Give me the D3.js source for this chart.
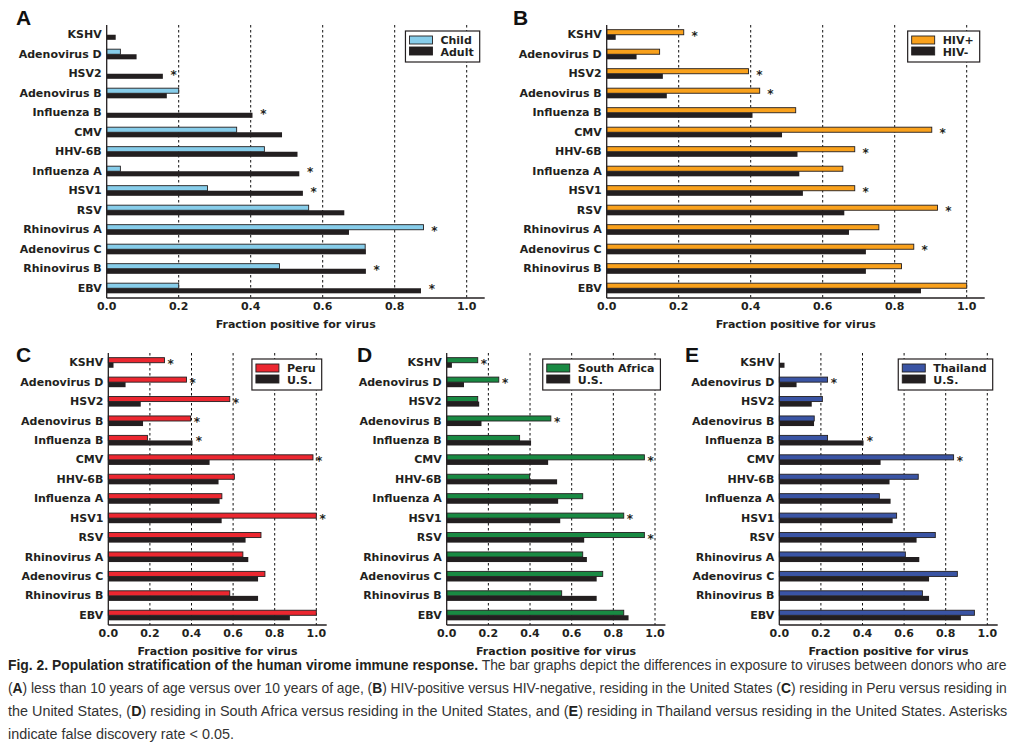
<!DOCTYPE html>
<html lang="en">
<head>
<meta charset="utf-8">
<title>Population stratification of the human virome immune response</title>
<script src="https://cdn.jsdelivr.net/npm/d3@7"></script>
<style>
  body, html { margin: 0; background: #fff; }
  .lbl { font-family: 'DejaVu Sans', sans-serif; font-weight: bold; font-size: 11px; fill: #231f20; }
  .star { font-family: 'DejaVu Sans', sans-serif; font-weight: bold; font-size: 12px; fill: #231f20; }
  .letter { font-family: 'Liberation Sans', sans-serif; font-weight: bold; font-size: 21px; fill: #111; }
  .cap { font-family: 'Liberation Sans', sans-serif; font-size: 14.5px; fill: #333; }
  .cap .b { font-weight: bold; fill: #231f20; }
</style>
</head>
<body>
<script>
// categories (top to bottom)
var viruses = ["KSHV", "Adenovirus D", "HSV2", "Adenovirus B", "Influenza B", "CMV", "HHV-6B",
  "Influenza A", "HSV1", "RSV", "Rhinovirus A", "Adenovirus C", "Rhinovirus B", "EBV"];

// U.S. adults / HIV- / U.S. residents (same black series in every panel)
var usValues     = [0.025, 0.083, 0.156, 0.167, 0.405, 0.487, 0.530, 0.535, 0.545, 0.660, 0.673, 0.720, 0.720, 0.873];
var childValues  = [0.000, 0.038, 0.000, 0.200, 0.000, 0.361, 0.438, 0.038, 0.280, 0.561, 0.880, 0.718, 0.480, 0.200];
var hivPosValues = [0.214, 0.147, 0.394, 0.425, 0.525, 0.903, 0.689, 0.656, 0.689, 0.919, 0.756, 0.853, 0.819, 1.000];
var peruValues   = [0.270, 0.376, 0.584, 0.396, 0.188, 0.984, 0.606, 0.546, 1.000, 0.734, 0.647, 0.753, 0.584, 1.000];
var saValues     = [0.149, 0.250, 0.149, 0.500, 0.350, 0.949, 0.398, 0.653, 0.850, 0.949, 0.653, 0.749, 0.552, 0.850];
var thaiValues   = [0.000, 0.232, 0.207, 0.168, 0.232, 0.838, 0.668, 0.481, 0.564, 0.750, 0.606, 0.856, 0.688, 0.938];

// viruses marked with an asterisk (FDR < 0.05)
var childSig  = ["HSV2", "Influenza B", "Influenza A", "HSV1", "Rhinovirus A", "Rhinovirus B", "EBV"];
var hivSig    = ["KSHV", "HSV2", "Adenovirus B", "CMV", "HHV-6B", "HSV1", "RSV", "Adenovirus C"];
var peruSig   = ["KSHV", "Adenovirus D", "HSV2", "Adenovirus B", "Influenza B", "CMV", "HSV1"];
var saSig     = ["KSHV", "Adenovirus D", "Adenovirus B", "CMV", "HSV1", "RSV"];
var thaiSig   = ["Adenovirus D", "Influenza B", "CMV"];

var xTicks = [0, 0.2, 0.4, 0.6, 0.8, 1.0];

var dark = "#231f20";

var panels = [
  {letter: "A", names: ["Child", "Adult"], values: childValues, color: "#87cdea", sig: childSig,
   x0: 106.7, x1: 466.7, top: 25, bottom: 298, lx: 16, ly: 25},
  {letter: "B", names: ["HIV+", "HIV-"], values: hivPosValues, color: "#f9a11c", sig: hivSig,
   x0: 606.7, x1: 966.7, top: 25, bottom: 298, lx: 513, ly: 25},
  {letter: "C", names: ["Peru", "U.S."], values: peruValues, color: "#ec2730", sig: peruSig,
   x0: 108.3, x1: 316.3, top: 353, bottom: 625, lx: 16, ly: 362},
  {letter: "D", names: ["South Africa", "U.S."], values: saValues, color: "#198a43", sig: saSig,
   x0: 446.7, x1: 655, top: 353, bottom: 625, lx: 357, ly: 362},
  {letter: "E", names: ["Thailand", "U.S."], values: thaiValues, color: "#3a54a4", sig: thaiSig,
   x0: 779.3, x1: 987.3, top: 353, bottom: 625, lx: 685, ly: 362}
];

var svg = d3.select("body").append("svg")
  .attr("width", 1017).attr("height", 755);

panels.forEach(function(p) {
  var x = d3.scaleLinear().domain([0, 1]).range([p.x0, p.x1]);
  var xEnd = x(1.05);
  var y = d3.scaleBand().domain(viruses).range([p.top, p.bottom]).padding(0);
  var bh = y.bandwidth() * 0.26;
  var g = svg.append("g");

  // dotted gridlines
  g.selectAll(".grid").data(xTicks.slice(1)).enter().append("line")
    .attr("x1", function(d) { return x(d); }).attr("x2", function(d) { return x(d); })
    .attr("y1", p.top).attr("y2", p.bottom)
    .attr("stroke", "#111").attr("stroke-width", 1).attr("stroke-dasharray", "2.5,2.5");

  var rows = viruses.map(function(v, i) {
    return {name: v, a: p.values[i], b: usValues[i]};
  });

  // coloured series (upper bar)
  g.selectAll(".barA").data(rows).enter().append("rect")
    .attr("x", x(0))
    .attr("y", function(d) { return y(d.name) + y.bandwidth() / 2 - bh; })
    .attr("width", function(d) { return x(d.a) - x(0); })
    .attr("height", bh)
    .attr("fill", p.color)
    .attr("stroke", function(d) { return d.a > 0 ? dark : "none"; })
    .attr("stroke-width", 0.9);

  // black series (lower bar)
  g.selectAll(".barB").data(rows).enter().append("rect")
    .attr("x", x(0))
    .attr("y", function(d) { return y(d.name) + y.bandwidth() / 2; })
    .attr("width", function(d) { return x(d.b) - x(0); })
    .attr("height", bh)
    .attr("fill", dark);

  // asterisks
  g.selectAll(".star").data(rows.filter(function(d) { return p.sig.indexOf(d.name) >= 0; }))
    .enter().append("text")
    .attr("class", "star")
    .attr("text-anchor", "middle")
    .attr("x", function(d) { return x(Math.max(d.a, d.b) + 0.03); })
    .attr("y", function(d) { return y(d.name) + y.bandwidth() / 2 + 5; })
    .text("*");

  // spines
  g.append("line").attr("x1", x(0)).attr("x2", x(0)).attr("y1", p.top).attr("y2", p.bottom)
    .attr("stroke", dark).attr("stroke-width", 1.3);
  g.append("line").attr("x1", x(0)).attr("x2", xEnd).attr("y1", p.bottom).attr("y2", p.bottom)
    .attr("stroke", dark).attr("stroke-width", 1.3);

  // category labels
  g.selectAll(".cat").data(viruses).enter().append("text")
    .attr("class", "lbl")
    .attr("text-anchor", "end")
    .attr("x", x(0) - 5)
    .attr("y", function(d) { return y(d) + y.bandwidth() / 2 + 3.5; })
    .text(function(d) { return d; });

  // tick labels
  g.selectAll(".tick").data(xTicks).enter().append("text")
    .attr("class", "lbl")
    .attr("text-anchor", "middle")
    .attr("x", function(d) { return x(d); })
    .attr("y", p.bottom + 12)
    .text(function(d) { return d3.format(".1f")(d); });

  g.append("text").attr("class", "lbl").attr("text-anchor", "middle")
    .attr("x", (x(0) + xEnd) / 2).attr("y", p.bottom + 30)
    .text("Fraction positive for virus");

  // panel letter
  svg.append("text").attr("class", "letter").attr("x", p.lx).attr("y", p.ly).text(p.letter);

  // legend
  var lg = g.append("g");
  var ltop = p.top + 6;
  var colors = [p.color, dark];
  var t = lg.selectAll(".lt").data(p.names).enter().append("text")
    .attr("class", "lbl")
    .attr("y", function(d, i) { return ltop + 9 + i * 12 + 4; })
    .text(function(d) { return d; });
  var tw = d3.max(t.nodes(), function(n) { return n.getComputedTextLength(); });
  var right = xEnd - 5;
  var boxW = 4 + 23 + 8 + tw + 6;
  var left = right - boxW;
  t.attr("x", left + 4 + 23 + 8);
  lg.insert("rect", "text").attr("x", left).attr("y", ltop).attr("width", boxW).attr("height", 31)
    .attr("fill", "#fff").attr("stroke", dark).attr("stroke-width", 1.2);
  lg.selectAll(".sw").data(colors).enter().append("rect")
    .attr("x", left + 4).attr("y", function(d, i) { return ltop + 5 + i * 11; })
    .attr("width", 23).attr("height", 8)
    .attr("fill", function(d) { return d; })
    .attr("stroke", dark).attr("stroke-width", 0.9);
});

// caption, squeezed horizontally to mimic the journal's condensed face
var capLines = [
  [["b", "Fig. 2. Population stratification of the human virome immune response."],
   ["", " The bar graphs depict the differences in exposure to viruses between donors who are"]],
  [["", "("], ["b", "A"], ["", ") less than 10 years of age versus over 10 years of age, ("], ["b", "B"],
   ["", ") HIV-positive versus HIV-negative, residing in the United States ("], ["b", "C"],
   ["", ") residing in Peru versus residing in"]],
  [["", "the United States, ("], ["b", "D"], ["", ") residing in South Africa versus residing in the United States, and ("],
   ["b", "E"], ["", ") residing in Thailand versus residing in the United States. Asterisks"]],
  [["", "indicate false discovery rate < 0.05."]]
];
var capWidths = [1000, 1000, 1000, null];

var lastK = 0.75;
capLines.forEach(function(line, i) {
  var t = svg.append("text").attr("class", "cap").attr("x", 0).attr("y", 0);
  line.forEach(function(s) {
    t.append("tspan").attr("class", s[0]).text(s[1]);
  });
  var w = t.node().getComputedTextLength();
  var k = capWidths[i] ? capWidths[i] / w : lastK;
  lastK = k;
  t.attr("transform", "translate(8," + (670 + i * 23) + ") scale(" + k + ",1)");
});
</script>
</body>
</html>
